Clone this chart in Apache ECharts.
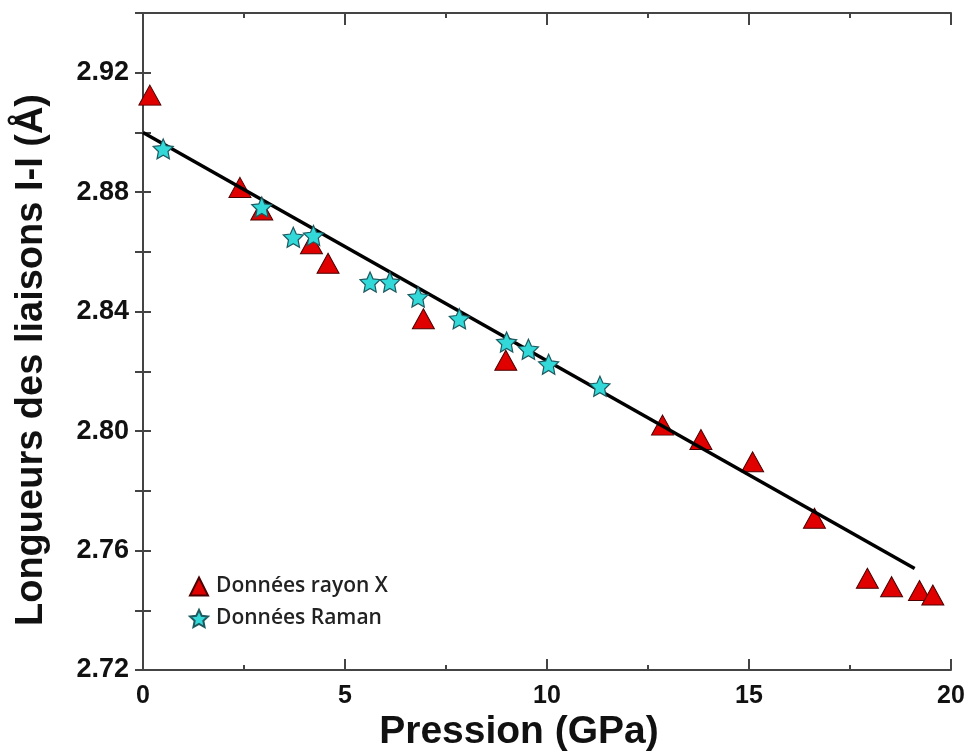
<!DOCTYPE html>
<html>
<head>
<meta charset="utf-8">
<script src="https://cdn.jsdelivr.net/npm/echarts@6/dist/echarts.min.js"></script>
<style>
html,body{margin:0;padding:0;background:#fff;}
#main{width:971px;height:755px;}
</style>
</head>
<body>
<div id="main"></div>
<script>
// X-ray data (Données rayon X)
var xrayP = [0.17, 2.40, 2.94, 4.17, 4.58, 6.94, 8.98, 12.86, 13.81, 15.09, 16.62, 17.93, 18.53, 19.22, 19.55];
var xrayL = [2.9125, 2.8816, 2.8740, 2.8627, 2.8562, 2.8376, 2.8237, 2.8020, 2.7972, 2.7897, 2.7708, 2.7507, 2.7479, 2.7466, 2.7451];
// Raman data (Données Raman)
var ramanP = [0.50, 2.94, 3.72, 4.22, 5.62, 6.11, 6.81, 7.83, 9.00, 9.54, 10.04, 11.31];
var ramanL = [2.8945, 2.8750, 2.8649, 2.8655, 2.8499, 2.8499, 2.8449, 2.8376, 2.8298, 2.8274, 2.8224, 2.8150];
// Linear fit
var fitP = [0, 19.1];
var fitL = [2.900, 2.754];
// Axis settings
var xTickLabels = [0, 5, 10, 15, 20];
var yTickLabels = [2.72, 2.76, 2.80, 2.84, 2.88, 2.92];
var names = ['Données rayon X', 'Données Raman'];

function zip(a, b) { return a.map(function (v, i) { return [v, b[i]]; }); }

// star symbol path
function starPath() {
  var pts = [];
  for (var k = 0; k < 10; k++) {
    var r = (k % 2 === 0) ? 50 : 24;
    var a = -Math.PI / 2 + k * Math.PI / 5;
    pts.push((50 + r * Math.cos(a)).toFixed(2) + ' ' + (50 + r * Math.sin(a)).toFixed(2));
  }
  return 'path://M' + pts.join(' L') + ' Z';
}
var STAR = starPath();

var FONT = '"Liberation Sans", Arial, sans-serif';
var chart = echarts.init(document.getElementById('main'), null, {renderer: 'canvas'});

var axisLineStyle = {color: '#444', width: 2};
var tickStyle = {color: '#444', width: 2};

chart.setOption({
  backgroundColor: '#fff',
  animation: false,
  grid: {left: 143, right: 20, top: 13, bottom: 85, containLabel: false},
  legend: {
    orient: 'vertical',
    left: 184,
    top: 571,
    itemWidth: 18,
    itemHeight: 18,
    itemGap: 11,
    data: names,
    textStyle: {fontFamily: '"Open Sans", sans-serif', fontSize: 21, fontWeight: 600, color: '#222', padding: [0, 0, 0, 3]}
  },
  xAxis: [{
    type: 'value', min: 0, max: 20, interval: 5, position: 'bottom',
    axisLine: {show: true, lineStyle: axisLineStyle},
    axisTick: {show: true, inside: false, length: -11, lineStyle: tickStyle},
    minorTick: {show: true, splitNumber: 2, length: -5, lineStyle: tickStyle},
    splitLine: {show: false},
    axisLabel: {
      margin: 14, fontFamily: FONT, fontWeight: 'bold', fontSize: 25, color: '#111',
      formatter: function (v) { return xTickLabels.indexOf(v) >= 0 ? String(v) : ''; }
    }
  }, {
    type: 'value', min: 0, max: 20, interval: 5, position: 'top',
    axisLine: {show: true, lineStyle: axisLineStyle},
    axisTick: {show: true, inside: false, length: -12, lineStyle: tickStyle},
    minorTick: {show: true, splitNumber: 2, length: -5, lineStyle: tickStyle},
    splitLine: {show: false},
    axisLabel: {show: false}
  }],
  yAxis: [{
    type: 'value', min: 2.72, max: 2.94, interval: 0.02, position: 'left',
    axisLine: {show: true, lineStyle: axisLineStyle},
    axisTick: {show: true, inside: false, length: -8, lineStyle: tickStyle},
    splitLine: {show: false},
    axisLabel: {
      margin: 14, fontFamily: FONT, fontWeight: 'bold', fontSize: 27, color: '#111',
      formatter: function (v) {
        for (var i = 0; i < yTickLabels.length; i++) {
          if (Math.abs(yTickLabels[i] - v) < 1e-6) return yTickLabels[i].toFixed(2);
        }
        return '';
      }
    }
  }, {
    type: 'value', min: 2.72, max: 2.94, interval: 0.02, position: 'right',
    axisLine: {show: true, lineStyle: axisLineStyle},
    axisTick: {show: true, inside: false, length: -8, lineStyle: tickStyle},
    splitLine: {show: false},
    axisLabel: {show: false}
  }],
  graphic: [{
    type: 'text', x: 32, y: 360, rotation: Math.PI / 2,
    style: {text: 'Longueurs des liaisons I-I (Å)', fontFamily: FONT, fontWeight: 'bold', fontSize: 38,
      fill: '#111', align: 'center', verticalAlign: 'middle'}
  }, {
    type: 'text', x: 519, y: 732,
    style: {text: 'Pression (GPa)', fontFamily: FONT, fontWeight: 'bold', fontSize: 39,
      fill: '#111', align: 'center', verticalAlign: 'middle'}
  }],
  series: [{
    name: names[0], type: 'scatter', z: 2,
    symbol: 'triangle', symbolSize: [22, 20],
    itemStyle: {color: '#e00000', borderColor: '#4a0000', borderWidth: 1, opacity: 1},
    data: zip(xrayP, xrayL)
  }, {
    name: 'fit', type: 'line', z: 3,
    symbol: 'none', silent: true,
    lineStyle: {color: '#000', width: 3.5},
    data: zip(fitP, fitL)
  }, {
    name: names[1], type: 'scatter', z: 4,
    symbol: STAR, symbolSize: 20,
    itemStyle: {color: '#33d9d9', borderColor: '#1d5a60', borderWidth: 1.2, opacity: 1},
    data: zip(ramanP, ramanL)
  }]
});
</script>
</body>
</html>
